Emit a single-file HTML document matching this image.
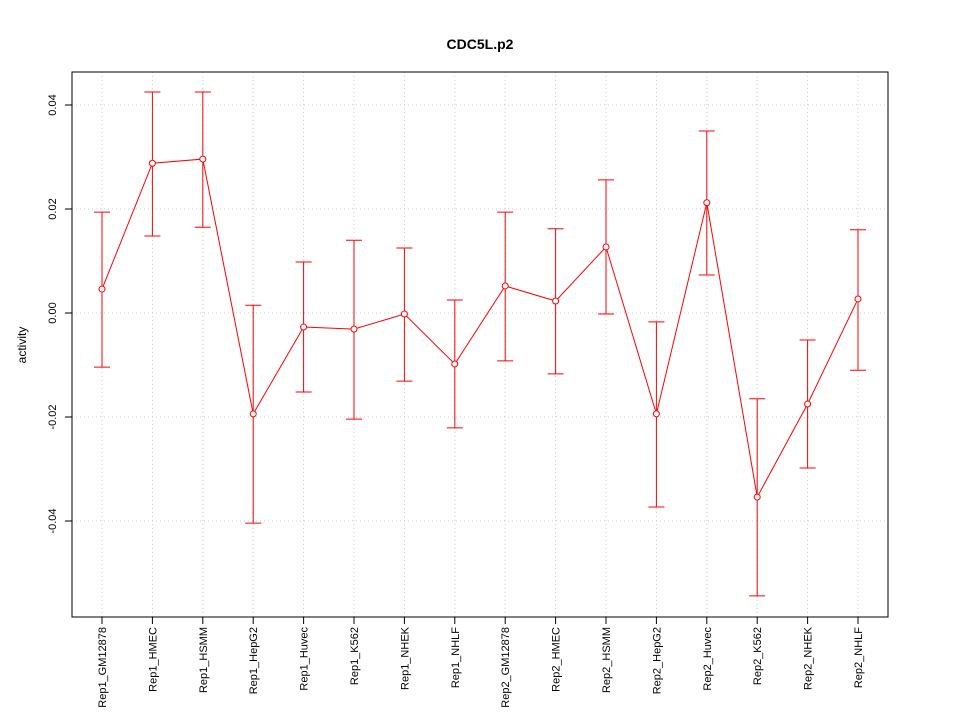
<!DOCTYPE html>
<html><head><meta charset="utf-8"><style>
html,body{margin:0;padding:0;background:#fff;}
svg{display:block;font-family:"Liberation Sans",sans-serif;}
</style></head><body>
<svg id="chart" width="960" height="720">
<text x="480" y="49" text-anchor="middle" font-size="14" font-weight="bold">CDC5L.p2</text>
<text transform="translate(26,345) rotate(-90)" text-anchor="middle" font-size="12">activity</text>
<g id="grid"></g><g id="axes"></g><g id="marks"></g>
<rect x="72" y="72" width="816" height="545" fill="none" stroke="#000"/>
</svg>
<script>
const categories=["Rep1_GM12878","Rep1_HMEC","Rep1_HSMM","Rep1_HepG2","Rep1_Huvec","Rep1_K562","Rep1_NHEK","Rep1_NHLF","Rep2_GM12878","Rep2_HMEC","Rep2_HSMM","Rep2_HepG2","Rep2_Huvec","Rep2_K562","Rep2_NHEK","Rep2_NHLF"];
const values=[0.0046,0.0288,0.0296,-0.0194,-0.0027,-0.0031,-0.0002,-0.0098,0.0052,0.0023,0.0127,-0.0194,0.0212,-0.0354,-0.0175,0.0027];
const upper=[0.0194,0.0425,0.0425,0.0015,0.0098,0.0140,0.0125,0.0025,0.0194,0.0162,0.0256,-0.0017,0.0350,-0.0165,-0.0052,0.0160];
const lower=[-0.0104,0.0148,0.0165,-0.0404,-0.0152,-0.0204,-0.0131,-0.0221,-0.0092,-0.0117,-0.0002,-0.0373,0.0073,-0.0544,-0.0298,-0.0110];
const yTicks=[-0.04,-0.02,0,0.02,0.04];
const yTickLabels=["-0.04","-0.02","0.00","0.02","0.04"];
const NS="http://www.w3.org/2000/svg";
const xs=i=>102+i*(858-102)/(categories.length-1);
const ys=v=>313-v*5200;
function mk(tag,attrs,parent){const e=document.createElementNS(NS,tag);for(const k in attrs)e.setAttribute(k,attrs[k]);parent.appendChild(e);return e;}
const grid=document.getElementById('grid'),axes=document.getElementById('axes'),marks=document.getElementById('marks');
categories.forEach((c,i)=>{
 const g=mk('line',{x1:xs(i),x2:xs(i),y1:72,y2:617,stroke:'#ccc','stroke-dasharray':'1,3'},grid);
 
 
 const t=mk('line',{x1:xs(i),x2:xs(i),y1:617,y2:624,stroke:'#000'},axes);
 
 
 const l=mk('text',{transform:`translate(${xs(i)+4},627) rotate(-90)`,'text-anchor':'end','font-size':'11'},axes);
 l.textContent=c;
 
 
});
yTicks.forEach((v,i)=>{
 const g=mk('line',{x1:72,x2:888,y1:ys(v),y2:ys(v),stroke:'#ccc','stroke-dasharray':'1,3'},grid);
 
 
 const t=mk('line',{x1:65,x2:72,y1:ys(v),y2:ys(v),stroke:'#000'},axes);
 
 
 const l=mk('text',{transform:`translate(56,${ys(v)}) rotate(-90)`,'text-anchor':'middle','font-size':'11'},axes);
 l.textContent=yTickLabels[i];
 
 
});
const pl=mk('polyline',{points:values.map((v,i)=>xs(i)+','+ys(v)).join(' '),fill:'none',stroke:'#f00'},marks);


values.forEach((v,i)=>{
 const x=xs(i);
 const eb=mk('path',{d:`M${x},${ys(upper[i])}V${ys(lower[i])}M${x-8},${ys(upper[i])}H${x+8}M${x-8},${ys(lower[i])}H${x+8}`,stroke:'#f00',fill:'none'},marks);
 
 
 const p=mk('circle',{cx:x,cy:ys(v),r:3,fill:'#fff',stroke:'#f00'},marks);
 
 
});
</script>
</body></html>
